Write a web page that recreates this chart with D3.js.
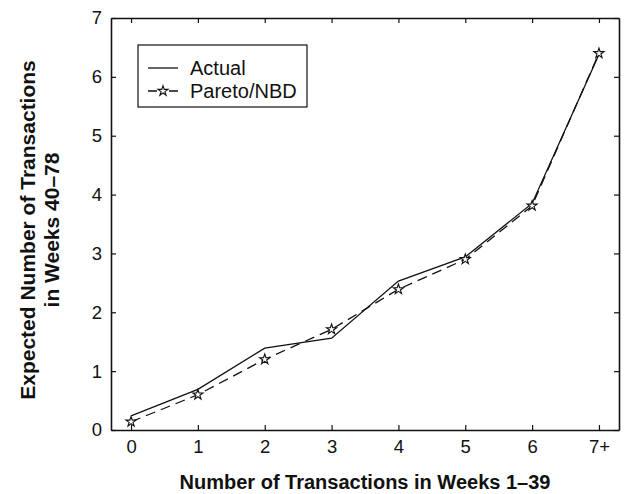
<!DOCTYPE html>
<html>
<head>
<meta charset="utf-8">
<script src="https://cdn.jsdelivr.net/npm/d3@7/dist/d3.min.js"></script>
<style>
  html, body { margin: 0; padding: 0; background: #fff; }
  svg { display: block; font-family: "Liberation Sans", Arial, Helvetica, sans-serif; }
</style>
</head>
<body>
<svg id="chart" width="637" height="494"></svg>
<script>
// Categories on the x axis (number of transactions in weeks 1–39)
const categories = ["0", "1", "2", "3", "4", "5", "6", "7+"];
// Observed mean number of transactions in weeks 40–78
const actual = [0.24, 0.69, 1.39, 1.56, 2.53, 2.94, 3.85, 6.38];
// Pareto/NBD conditional expectations
const pareto = [0.14, 0.60, 1.20, 1.71, 2.39, 2.90, 3.81, 6.40];
const yTicks = [0, 1, 2, 3, 4, 5, 6, 7];
const seriesNames = ["Actual", "Pareto/NBD"];

const svg = d3.select("#chart");
const plot = { left: 111, right: 619, top: 18, bottom: 430 };

const x = d3.scaleLinear().domain([-0.3, 7.3]).range([plot.left, plot.right]);
const y = d3.scaleLinear().domain([0, 7]).range([plot.bottom, plot.top]);

const ink = "#111";
const xIdx = categories.map((_, i) => i);

// Frame with inward ticks on all four sides
const axB = d3.axisBottom(x).tickValues(xIdx).tickFormat(i => categories[i])
  .tickSizeInner(-5).tickSizeOuter(0).tickPadding(10);
const axT = d3.axisTop(x).tickValues(xIdx).tickFormat("")
  .tickSizeInner(-5).tickSizeOuter(0);
const axL = d3.axisLeft(y).tickValues(yTicks).tickFormat(d3.format("d"))
  .tickSizeInner(-5).tickSizeOuter(0).tickPadding(9);
const axR = d3.axisRight(y).tickValues(yTicks).tickFormat("")
  .tickSizeInner(-5).tickSizeOuter(0);

function style(g) {
  g.selectAll("path.domain").attr("stroke", ink).attr("stroke-width", 1.6);
  g.selectAll(".tick line").attr("stroke", ink).attr("stroke-width", 1.2);
  g.selectAll(".tick text").attr("fill", ink).style("font-size", "18.5px");
  g.attr("font-family", null);
}

svg.append("g").attr("transform", `translate(0,${plot.bottom})`).call(axB).call(style);
svg.append("g").attr("transform", `translate(0,${plot.top})`).call(axT).call(style);
svg.append("g").attr("transform", `translate(${plot.left},0)`).call(axL).call(style);
svg.append("g").attr("transform", `translate(${plot.right},0)`).call(axR).call(style);

// Series lines
const line = d3.line().x((d, i) => x(i)).y(d => y(d));

svg.append("path").datum(actual)
  .attr("d", line).attr("fill", "none")
  .attr("stroke", ink).attr("stroke-width", 1.3);

svg.append("path").datum(pareto)
  .attr("d", line).attr("fill", "none")
  .attr("stroke", ink).attr("stroke-width", 1.3)
  .attr("stroke-dasharray", "10,6");

const star = d3.symbol().type(d3.symbolStar).size(32);
svg.append("g").selectAll("path").data(pareto).join("path")
  .attr("d", star)
  .attr("transform", (d, i) => `translate(${x(i)},${y(d)})`)
  .attr("fill", "#fff").attr("stroke", ink).attr("stroke-width", 1.1);

// Legend
const lg = svg.append("g");
lg.append("rect").attr("x", 138).attr("y", 45).attr("width", 169).attr("height", 62)
  .attr("fill", "#fff").attr("stroke", ink).attr("stroke-width", 1.2);
const rows = [{ y: 68, dash: false, mark: false }, { y: 91, dash: true, mark: true }];
rows.forEach((r, k) => {
  lg.append("line").attr("x1", 148).attr("x2", 178).attr("y1", r.y).attr("y2", r.y)
    .attr("stroke", ink).attr("stroke-width", 1.3)
    .attr("stroke-dasharray", r.dash ? "9,12" : null);
  if (r.mark) {
    lg.append("path").attr("d", star).attr("transform", `translate(163,${r.y})`)
      .attr("fill", "#fff").attr("stroke", ink).attr("stroke-width", 1.1);
  }
  lg.append("text").attr("x", 190).attr("y", r.y + 7)
    .attr("fill", ink).style("font-size", "20px").text(seriesNames[k]);
});

// Axis titles
svg.append("text")
  .attr("x", (plot.left + plot.right) / 2).attr("y", 489)
  .attr("text-anchor", "middle").attr("fill", ink)
  .style("font-size", "20px").style("font-weight", "bold")
  .text("Number of Transactions in Weeks 1–39");

const yt = svg.append("text")
  .attr("transform", `translate(0,230) rotate(-90)`)
  .attr("text-anchor", "middle").attr("fill", ink)
  .style("font-size", "21px").style("font-weight", "bold");
yt.append("tspan").attr("x", 0).attr("y", 35).text("Expected Number of Transactions");
yt.append("tspan").attr("x", 0).attr("y", 59).text("in Weeks 40–78");
</script>
</body>
</html>
